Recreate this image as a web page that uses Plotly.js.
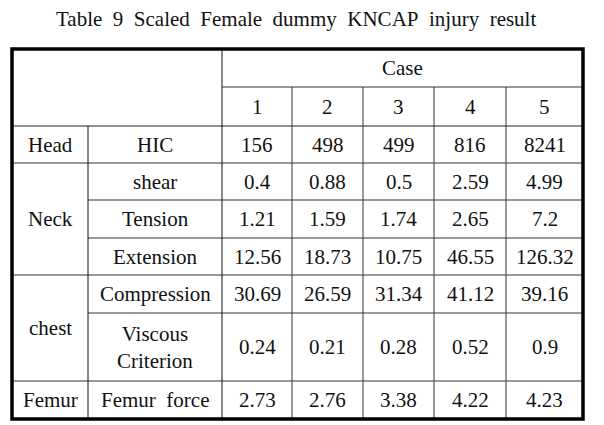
<!DOCTYPE html>
<html>
<head>
<meta charset="utf-8">
<script src="https://cdn.plot.ly/plotly-3.0.1.min.js"></script>
<style>
  html, body { margin: 0; padding: 0; background: #fff; }
  #injuryTable text { font-family: "Liberation Serif", serif !important; }
</style>
</head>
<body>
<div id="injuryTable" style="width:604px;height:425px"></div>
<script>
// Table content
const caseLabels = ['1', '2', '3', '4', '5'];
const regionNames = ['Head', 'Neck', 'chest', 'Femur'];
const regionSpans = [1, 3, 2, 1];
const measureNames = ['HIC', 'shear', 'Tension', 'Extension', 'Compression', 'Viscous<br>Criterion', 'Femur\u00a0 force'];

const hic = [156, 498, 499, 816, 8241];
const neckShear = [0.4, 0.88, 0.5, 2.59, 4.99];
const neckTension = [1.21, 1.59, 1.74, 2.65, 7.2];
const neckExtension = [12.56, 18.73, 10.75, 46.55, 126.32];
const chestCompression = [30.69, 26.59, 31.34, 41.12, 39.16];
const viscousCriterion = [0.24, 0.21, 0.28, 0.52, 0.9];
const femurForce = [2.73, 2.76, 3.38, 4.22, 4.23];

const rowValues = [hic, neckShear, neckTension, neckExtension, chestCompression, viscousCriterion, femurForce];

// Grid geometry (axes are set up 1:1 with page pixels)
const colEdges = [12, 88, 222, 292, 363, 434, 506, 583];
const rowEdges = [49, 87, 126, 163, 200, 238, 275, 313, 381, 419];
const FONT = 'Liberation Serif';

const mid = (a, b) => (a + b) / 2;

// Every cell label becomes an annotation placed on the x/y axes
const annotations = [];
function addCell(text, c0, c1, r0, r1) {
    annotations.push({
        xref: 'x', yref: 'y',
        x: mid(colEdges[c0], colEdges[c1]),
        y: mid(rowEdges[r0], rowEdges[r1]),
        text: String(text),
        showarrow: false,
        xanchor: 'center', yanchor: 'middle',
        font: { family: FONT, size: 21, color: '#111' }
    });
}

addCell('Case', 2, 7, 0, 1);
caseLabels.forEach((lab, i) => addCell(lab, 2 + i, 3 + i, 1, 2));

let r = 2;
regionNames.forEach((name, i) => {
    addCell(name, 0, 1, r, r + regionSpans[i]);
    r += regionSpans[i];
});

measureNames.forEach((name, i) => {
    addCell(name, 1, 2, 2 + i, 3 + i);
    rowValues[i].forEach((v, j) => addCell(v, 2 + j, 3 + j, 2 + i, 3 + i));
});

// title
annotations.push({
    xref: 'paper', yref: 'paper', x: 0.49, y: 1 - 19 / 425,
    xanchor: 'center', yanchor: 'middle', showarrow: false,
    text: 'Table\u00a0 9\u00a0 Scaled\u00a0 Female\u00a0 dummy\u00a0 KNCAP\u00a0 injury\u00a0 result',
    font: { family: FONT, size: 21, color: '#111' }
});

// Grid lines
const shapes = [];
function hLine(y, x0, x1, color, width) {
    shapes.push({ type: 'line', xref: 'x', yref: 'y', x0: x0, x1: x1, y0: y, y1: y,
        line: { color: color, width: width } });
}
function vLine(x, y0, y1, color, width) {
    shapes.push({ type: 'line', xref: 'x', yref: 'y', x0: x, x1: x, y0: y0, y1: y1,
        line: { color: color, width: width } });
}

const tblLeft = colEdges[0], tblRight = colEdges[7];
const tblTop = rowEdges[0], tblBottom = rowEdges[9];

hLine(rowEdges[1], colEdges[2], tblRight, '#333', 1);
hLine(rowEdges[2], tblLeft, tblRight, '#222', 1.2);
hLine(rowEdges[3], tblLeft, tblRight, '#777', 1.3);
hLine(rowEdges[4], colEdges[1], tblRight, '#777', 1.3);
hLine(rowEdges[5], colEdges[1], tblRight, '#777', 1.3);
hLine(rowEdges[6], tblLeft, tblRight, '#777', 1.3);
hLine(rowEdges[7], colEdges[1], tblRight, '#777', 1.3);
hLine(rowEdges[8], tblLeft, tblRight, '#777', 1.3);

vLine(colEdges[1], rowEdges[2], tblBottom, '#111', 1);
vLine(colEdges[2], tblTop, tblBottom, '#111', 1);
for (let c = 3; c < 7; c++) vLine(colEdges[c], rowEdges[1], tblBottom, '#333', 1);

// thick outer frame
shapes.push({ type: 'rect', xref: 'x', yref: 'y', x0: tblLeft, x1: tblRight, y0: tblTop, y1: tblBottom,
    line: { color: '#000', width: 3.5 } });

const layout = {
    width: 604,
    height: 425,
    margin: { t: 0, b: 0, l: 0, r: 0 },
    xaxis: { range: [0, 604], visible: false, fixedrange: true },
    yaxis: { range: [425, 0], visible: false, fixedrange: true },
    shapes: shapes,
    annotations: annotations,
    showlegend: false,
    paper_bgcolor: '#fff',
    plot_bgcolor: '#fff'
};

Plotly.newPlot('injuryTable', [], layout, { displayModeBar: false });
</script>
</body>
</html>
